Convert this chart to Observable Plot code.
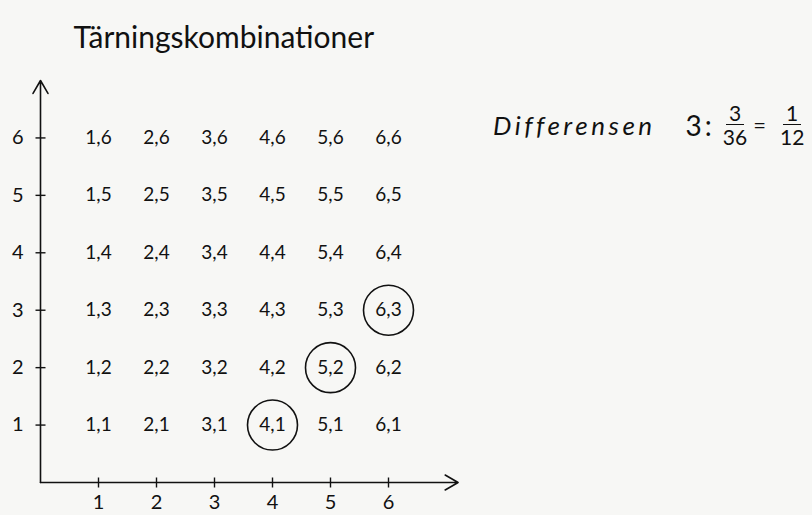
<!DOCTYPE html>
<html>
<head>
<meta charset="utf-8">
<script src="https://cdn.jsdelivr.net/npm/d3@7"></script>
<script src="https://cdn.jsdelivr.net/npm/@observablehq/plot@0.6"></script>
<style>
  body { margin: 0; background: #f7f7f5; }
  #wrap { position: relative; width: 812px; height: 515px; overflow: hidden; font-family: Lato, "Open Sans", sans-serif; color: #111; }
  #note { position: absolute; left: 493px; top: 101px; display: flex; align-items: center; white-space: nowrap; font-size: 26px; }
  #note .lbl { font-style: italic; letter-spacing: 3.5px; margin-right: 30px; }
  #note .cnt { font-size: 28px; letter-spacing: 3px; margin-right: 8px; }
  .frac { display: inline-flex; flex-direction: column; align-items: center; font-size: 21px; line-height: 23px; }
  .frac .num { border-bottom: 1.5px solid #111; padding: 0 3px 0 3px; }
  .frac.r { padding-left: 8px; }
  .eq { font-size: 22px; margin: 0 6px 0 6px; }
</style>
</head>
<body>
<div id="wrap"></div>
<script>
// ---- data ----
const title = "Tärningskombinationer";
const dieValues = [1, 2, 3, 4, 5, 6];
const highlightedFirst = [4, 5, 6];
const highlightedSecond = [1, 2, 3];
const noteLabel = "Differensen";
const noteCount = 3;
const noteNumerator = 3;
const noteDenominator = 36;
const resultNumerator = 1;
const resultDenominator = 12;
const axisExtentX = 7.2;
const axisExtentY = 7.0;

// ---- derived tables ----
const cells = dieValues.flatMap(a => dieValues.map(b => ({x: a, y: b, label: `${a},${b}`})));
const highlighted = highlightedFirst.map((a, i) => ({x: a, y: highlightedSecond[i]}));
const axes = [
  {x1: 0, y1: 0, x2: axisExtentX, y2: 0},
  {x1: 0, y1: 0, x2: 0, y2: axisExtentY}
];

const vbar = {draw(ctx, size) { const r = Math.sqrt(size / Math.PI); ctx.moveTo(0, -r); ctx.lineTo(0, r); }};
const hbar = {draw(ctx, size) { const r = Math.sqrt(size / Math.PI); ctx.moveTo(-r, 0); ctx.lineTo(r, 0); }};

const chart = Plot.plot({
  width: 812,
  height: 515,
  marginLeft: 40,
  marginRight: 366,
  marginTop: 80,
  marginBottom: 33,
  x: {domain: [0, 7]},
  y: {domain: [0, 7]},
  style: {background: "transparent", fontFamily: "Lato, 'Open Sans', sans-serif", fontSize: "17px", color: "#111", overflow: "visible"},
  marks: [
    Plot.arrow(axes, {x1: "x1", y1: "y1", x2: "x2", y2: "y2", bend: 0, headLength: 14, headAngle: 60, stroke: "#111", strokeWidth: 1.6}),
    Plot.dot(dieValues, {x: d => d, y: d => 0, symbol: vbar, r: 5, stroke: "#111", strokeWidth: 1.4}),
    Plot.dot(dieValues, {x: d => 0, y: d => d, symbol: hbar, r: 5, stroke: "#111", strokeWidth: 1.4}),
    Plot.axisX({ticks: dieValues, tickFormat: d3.format("d"), tickSize: 0, tickPadding: 12, fontSize: 20, label: null}),
    Plot.axisY({ticks: dieValues, tickFormat: d3.format("d"), tickSize: 0, tickPadding: 17, fontSize: 20, label: null}),
    Plot.text(cells, {x: "x", y: "y", text: "label", fontSize: 19, fill: "#111"}),
    Plot.dot(highlighted, {x: "x", y: "y", r: 25, stroke: "#111", strokeWidth: 1.6, fill: "none"}),
    Plot.text([title], {frameAnchor: "top-left", textAnchor: "start", lineAnchor: "bottom", dx: 33, dy: -33, fontSize: 30, fill: "#111", letterSpacing: "0.6px"})
  ]
});

const wrap = document.getElementById("wrap");
wrap.appendChild(chart);

const note = document.createElement("div");
note.id = "note";
note.innerHTML = `<span class="lbl">${noteLabel}</span><span class="cnt">${noteCount}:</span>` +
  `<span class="frac"><span class="num">${noteNumerator}</span><span>${noteDenominator}</span></span>` +
  `<span class="eq">=</span>` +
  `<span class="frac r"><span class="num">${resultNumerator}</span><span>${resultDenominator}</span></span>`;
wrap.appendChild(note);
</script>
</body>
</html>
